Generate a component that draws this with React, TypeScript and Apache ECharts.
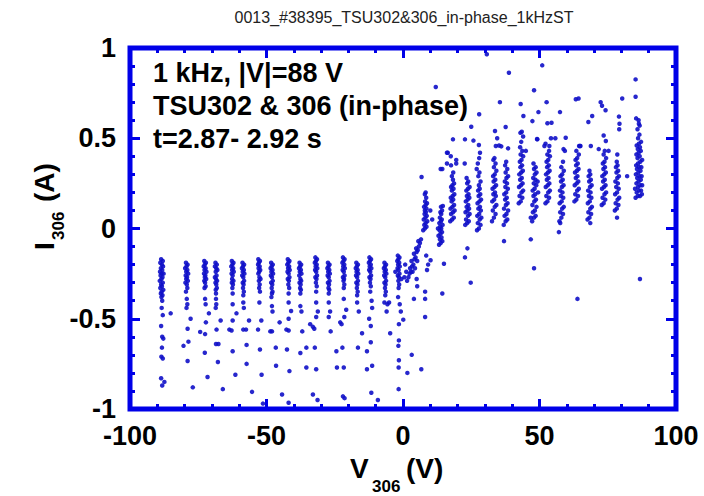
import React, { useEffect, useRef } from "react";
import * as echarts from "echarts";

const chartTitle = "0013_#38395_TSU302&306_in-phase_1kHzST";
const annotationLines = ["1 kHz, |V|=88 V", "TSU302 & 306 (in-phase)", "t=2.87- 2.92 s"];
const xRange = [-100, 100];
const yRange = [-1, 1];

// Negative-voltage branch: dense parts of each column [V, I]
const negDense: number[][] = [
  [-88.6,-0.17],[-88.0,-0.18],[-88.9,-0.19],[-88.3,-0.20],[-87.9,-0.21],[-88.7,-0.22],[-88.2,-0.23],[-89.0,-0.24],[-88.4,-0.25],[-87.7,-0.25],[-88.8,-0.26],[-88.1,-0.27],[-88.5,-0.28],[-89.1,-0.29],[-88.0,-0.30],[-88.6,-0.31],[-88.3,-0.32],[-88.9,-0.33],[-87.8,-0.34],[-88.4,-0.35],[-88.7,-0.36],[-88.1,-0.37],[-88.5,-0.38],[-88.2,-0.40],
  [-79.5,-0.19],[-78.9,-0.20],[-79.3,-0.21],[-79.8,-0.22],[-79.0,-0.23],[-79.4,-0.24],[-78.7,-0.25],[-79.6,-0.26],[-79.1,-0.27],[-79.4,-0.28],[-78.8,-0.29],[-79.7,-0.30],[-79.2,-0.31],[-79.0,-0.33],[-79.5,-0.35],
  [-72.8,-0.18],[-72.2,-0.19],[-72.6,-0.20],[-73.0,-0.21],[-72.3,-0.22],[-72.7,-0.23],[-72.0,-0.24],[-72.9,-0.25],[-72.4,-0.26],[-72.6,-0.27],[-72.1,-0.28],[-72.8,-0.29],[-72.5,-0.30],[-72.3,-0.32],[-72.7,-0.33],
  [-68.7,-0.19],[-68.2,-0.20],[-68.9,-0.21],[-68.4,-0.22],[-68.0,-0.23],[-68.6,-0.24],[-68.3,-0.26],[-68.9,-0.27],[-68.5,-0.28],[-68.1,-0.29],[-68.7,-0.30],[-68.4,-0.31],[-68.2,-0.33],[-68.6,-0.34],[-68.5,-0.36],
  [-62.7,-0.18],[-62.1,-0.19],[-62.5,-0.20],[-62.9,-0.21],[-62.2,-0.22],[-62.6,-0.23],[-62.0,-0.24],[-62.8,-0.25],[-62.4,-0.26],[-62.6,-0.28],[-62.1,-0.29],[-62.7,-0.30],[-62.3,-0.31],[-62.5,-0.33],[-62.4,-0.36],
  [-58.8,-0.19],[-58.2,-0.20],[-58.6,-0.21],[-59.0,-0.22],[-58.3,-0.23],[-58.7,-0.24],[-58.1,-0.25],[-58.9,-0.26],[-58.5,-0.27],[-58.2,-0.29],[-58.7,-0.30],[-58.4,-0.31],[-58.6,-0.33],[-58.3,-0.35],[-58.5,-0.37],
  [-53.0,-0.17],[-52.4,-0.18],[-52.8,-0.19],[-53.1,-0.20],[-52.5,-0.21],[-52.9,-0.22],[-52.3,-0.23],[-52.7,-0.24],[-53.0,-0.25],[-52.6,-0.27],[-52.2,-0.28],[-52.8,-0.29],[-52.5,-0.31],[-52.7,-0.33],[-52.4,-0.35],
  [-48.3,-0.19],[-47.7,-0.20],[-48.1,-0.21],[-48.5,-0.22],[-47.8,-0.23],[-48.2,-0.24],[-47.6,-0.25],[-48.4,-0.26],[-48.0,-0.27],[-47.7,-0.29],[-48.3,-0.30],[-47.9,-0.31],[-48.1,-0.33],[-47.8,-0.35],[-48.0,-0.36],[-48.2,-0.38],
  [-42.2,-0.17],[-41.6,-0.18],[-42.0,-0.19],[-42.4,-0.20],[-41.7,-0.21],[-42.1,-0.22],[-41.5,-0.23],[-42.3,-0.24],[-41.9,-0.25],[-41.6,-0.27],[-42.2,-0.28],[-41.8,-0.29],[-42.0,-0.31],[-41.7,-0.33],[-41.9,-0.36],
  [-37.9,-0.19],[-37.3,-0.20],[-37.7,-0.21],[-38.1,-0.22],[-37.4,-0.23],[-37.8,-0.24],[-37.2,-0.25],[-38.0,-0.26],[-37.6,-0.28],[-37.3,-0.29],[-37.9,-0.30],[-37.5,-0.31],[-37.7,-0.33],[-37.4,-0.34],[-37.6,-0.36],
  [-32.1,-0.16],[-31.5,-0.17],[-31.9,-0.18],[-32.3,-0.19],[-31.6,-0.20],[-32.0,-0.21],[-31.4,-0.22],[-32.2,-0.23],[-31.8,-0.24],[-31.5,-0.26],[-32.1,-0.27],[-31.7,-0.28],[-31.9,-0.30],[-31.6,-0.32],[-31.8,-0.35],
  [-27.5,-0.19],[-26.9,-0.20],[-27.3,-0.21],[-27.7,-0.22],[-27.0,-0.23],[-27.4,-0.24],[-26.8,-0.25],[-27.6,-0.26],[-27.2,-0.27],[-26.9,-0.29],[-27.5,-0.30],[-27.1,-0.31],[-27.3,-0.33],[-27.0,-0.34],[-27.2,-0.36],
  [-22.0,-0.16],[-21.4,-0.17],[-21.8,-0.18],[-22.2,-0.19],[-21.5,-0.20],[-21.9,-0.21],[-21.3,-0.22],[-22.1,-0.23],[-21.7,-0.24],[-21.4,-0.26],[-22.0,-0.27],[-21.6,-0.28],[-21.8,-0.29],[-21.5,-0.31],[-21.7,-0.33],
  [-17.1,-0.19],[-16.5,-0.20],[-16.9,-0.21],[-17.3,-0.22],[-16.6,-0.23],[-17.0,-0.24],[-16.4,-0.25],[-17.2,-0.26],[-16.8,-0.27],[-16.5,-0.29],[-17.1,-0.30],[-16.7,-0.31],[-16.9,-0.33],[-16.6,-0.35],[-16.8,-0.37],
  [-12.3,-0.16],[-11.7,-0.17],[-12.1,-0.18],[-12.5,-0.19],[-11.8,-0.20],[-12.2,-0.21],[-11.6,-0.22],[-12.4,-0.23],[-12.0,-0.24],[-11.7,-0.26],[-12.3,-0.27],[-11.9,-0.28],[-12.1,-0.30],[-11.8,-0.32],[-12.0,-0.35],
  [-6.8,-0.19],[-6.2,-0.20],[-6.6,-0.21],[-7.0,-0.22],[-6.3,-0.23],[-6.7,-0.24],[-6.1,-0.25],[-6.9,-0.26],[-6.5,-0.27],[-6.2,-0.29],[-6.8,-0.30],[-6.4,-0.31],[-6.6,-0.33],[-6.3,-0.35],[-6.5,-0.37],
  [-1.9,-0.15],[-1.3,-0.16],[-1.7,-0.17],[-2.1,-0.18],[-1.4,-0.19],[-1.8,-0.20],[-1.2,-0.21],[-2.0,-0.22],[-1.6,-0.23],[-1.3,-0.25],[-1.9,-0.26],[-1.5,-0.27],[-1.7,-0.29],[-1.4,-0.31],[-1.6,-0.33],[-2.8,-0.24],[-0.6,-0.28],
];

// Negative-voltage branch: sparse tails below each column [V, I]
const negTail: number[][] = [
  [-88.4,-0.44],[-88.0,-0.48],[-88.6,-0.54],[-88.2,-0.60],[-87.8,-0.61],[-88.3,-0.66],[-88.5,-0.71],[-88.0,-0.72],[-88.6,-0.83],[-87.4,-0.85],[-88.2,-0.87],[-85.1,-0.47],
  [-79.2,-0.39],[-79.0,-0.42],[-79.3,-0.44],[-77.8,-0.50],[-78.9,-0.555],[-78.6,-0.627],[-80.4,-0.65],[-78.9,-0.734],[-77.0,-0.88],
  [-72.5,-0.39],[-72.3,-0.42],[-71.1,-0.47],[-72.2,-0.52],[-74.3,-0.573],[-72.5,-0.585],[-72.6,-0.688],[-71.6,-0.823],
  [-68.5,-0.39],[-68.4,-0.42],[-68.6,-0.44],[-66.8,-0.51],[-68.3,-0.56],[-68.5,-0.64],[-67.6,-0.64],[-67.8,-0.74],[-66.0,-0.89],
  [-62.4,-0.42],[-61.0,-0.47],[-62.4,-0.51],[-63.6,-0.56],[-62.8,-0.565],[-62.4,-0.68],[-61.4,-0.81],
  [-58.5,-0.41],[-58.3,-0.44],[-56.4,-0.51],[-58.5,-0.56],[-57.5,-0.56],[-57.3,-0.645],[-57.3,-0.75],[-55.3,-0.905],
  [-52.6,-0.41],[-51.9,-0.51],[-53.1,-0.56],[-52.4,-0.67],[-51.8,-0.81],[-51.3,-0.97],
  [-48.0,-0.43],[-47.8,-0.46],[-45.2,-0.52],[-48.0,-0.57],[-48.6,-0.57],[-46.6,-0.66],[-46.5,-0.76],[-44.3,-0.92],
  [-41.9,-0.41],[-41.0,-0.457],[-41.9,-0.50],[-42.7,-0.56],[-41.9,-0.565],[-42.5,-0.67],[-41.6,-0.79],[-41.9,-0.965],
  [-37.6,-0.43],[-37.2,-0.46],[-36.9,-0.57],[-37.6,-0.69],[-35.4,-0.66],[-35.4,-0.77],
  [-31.8,-0.41],[-31.2,-0.46],[-31.8,-0.49],[-34.0,-0.53],[-33.0,-0.545],[-32.5,-0.555],[-32.3,-0.66],[-31.8,-0.78],[-33.0,-0.92],[-31.3,-0.95],
  [-27.2,-0.41],[-26.7,-0.46],[-27.2,-0.49],[-26.5,-0.57],[-24.4,-0.68],[-24.2,-0.77],
  [-21.7,-0.39],[-20.8,-0.45],[-21.5,-0.49],[-23.0,-0.52],[-22.5,-0.53],[-22.2,-0.66],[-21.7,-0.77],[-22.0,-0.93],[-21.4,-0.94],
  [-16.8,-0.41],[-16.2,-0.46],[-15.0,-0.58],[-16.5,-0.66],[-13.2,-0.68],[-13.2,-0.78],
  [-11.5,-0.40],[-11.3,-0.44],[-12.4,-0.50],[-11.8,-0.54],[-11.8,-0.63],[-11.3,-0.76],[-11.6,-0.91],[-9.2,-0.95],
  [-6.8,-0.41],[-5.1,-0.41],[-5.7,-0.42],[-6.0,-0.46],[-4.7,-0.58],
  [-1.8,-0.38],[-1.2,-0.42],[-0.8,-0.46],[0.1,-0.505],[-1.5,-0.53],[-1.5,-0.62],[-1.7,-0.65],[-1.5,-0.73],[-1.6,-0.77],[-1.6,-0.89],[3.2,-0.70],[1.6,-0.80],[6.7,-0.78],
];

// Transition region around V = 0..10 [V, I]
const transition: number[][] = [
  [2.0,-0.27],[2.4,-0.25],[2.9,-0.24],[2.6,-0.22],[3.3,-0.21],[3.8,-0.20],[3.1,-0.18],[4.2,-0.17],[4.6,-0.16],[4.0,-0.14],[5.0,-0.13],[5.4,-0.12],[4.8,-0.11],[5.8,-0.10],[6.2,-0.08],[5.6,-0.07],[6.6,-0.06],[3.5,-0.24],[4.4,-0.22],[5.2,-0.18],[1.5,-0.29],[0.8,-0.20],[1.2,-0.24],[0.5,-0.27],
  [8.5,-0.15],[9.2,-0.20],[8.8,-0.23],[4.0,-0.39],[8.1,-0.39],[8.1,-0.35],[5.2,-0.32],[5.0,-0.28],[8.1,-0.49],
];

// Positive-voltage branch columns [V, I]
const posColumns: number[][] = [
  [7.4,-0.01],[8.0,0.00],[8.6,0.01],[7.8,0.02],[8.3,0.03],[8.9,0.04],[7.6,0.05],[8.2,0.06],[8.7,0.07],[7.9,0.08],[8.4,0.09],[8.0,0.10],[8.6,0.11],[7.7,0.12],[8.3,0.13],[8.8,0.14],[8.1,0.15],[8.5,0.17],[8.0,0.19],[8.3,0.20],[10.0,0.10],[10.7,0.05],
  [13.2,-0.09],[13.8,-0.08],[14.4,-0.07],[13.5,-0.06],[14.1,-0.05],[13.0,-0.04],[13.7,-0.03],[14.3,-0.02],[13.4,-0.01],[14.0,0.00],[13.6,0.01],[14.5,0.02],[13.3,0.03],[13.9,0.04],[14.2,0.05],[13.5,0.06],[14.0,0.08],[13.7,0.09],[14.3,0.10],[13.9,0.12],[14.6,0.125],[12.8,0.00],
  [17.3,0.04],[18.0,0.05],[18.6,0.06],[17.6,0.08],[18.3,0.09],[18.9,0.10],[17.4,0.11],[18.1,0.12],[18.7,0.13],[17.8,0.15],[18.4,0.16],[17.5,0.17],[18.2,0.18],[18.8,0.19],[17.9,0.21],[18.5,0.22],[17.6,0.23],[18.1,0.24],[18.7,0.25],[18.3,0.27],[17.9,0.29],[18.4,0.31],
  [22.8,0.02],[23.5,0.03],[24.1,0.04],[23.1,0.05],[23.8,0.07],[24.4,0.08],[22.9,0.09],[23.6,0.10],[24.2,0.11],[23.3,0.12],[23.9,0.13],[23.0,0.15],[23.7,0.16],[24.3,0.17],[23.4,0.18],[24.0,0.19],[23.2,0.21],[23.8,0.22],[24.4,0.23],[23.5,0.25],[23.9,0.26],[23.3,0.28],
  [27.1,-0.01],[27.8,0.00],[28.4,0.02],[27.4,0.03],[28.1,0.05],[28.7,0.06],[27.2,0.07],[27.9,0.08],[28.5,0.10],[27.6,0.11],[28.2,0.12],[27.3,0.14],[28.0,0.15],[28.6,0.16],[27.7,0.18],[28.3,0.19],[27.5,0.21],[28.1,0.22],[27.8,0.24],[28.4,0.26],[27.6,0.29],[28.0,0.31],[27.4,0.36],[27.9,0.39],[28.2,0.42],
  [32.6,0.04],[33.3,0.06],[33.9,0.08],[32.9,0.10],[33.6,0.12],[34.2,0.13],[32.7,0.15],[33.4,0.16],[34.0,0.18],[33.1,0.19],[33.7,0.20],[32.8,0.22],[33.5,0.23],[34.1,0.24],[33.2,0.26],[33.8,0.27],[33.0,0.29],[33.6,0.30],[34.2,0.32],[33.3,0.34],[33.9,0.36],[33.1,0.38],[33.5,0.39],
  [36.9,0.02],[37.6,0.04],[38.2,0.05],[37.2,0.07],[37.9,0.08],[38.5,0.10],[37.0,0.11],[37.7,0.13],[38.3,0.14],[37.4,0.16],[38.0,0.17],[37.1,0.19],[37.8,0.20],[38.4,0.22],[37.5,0.23],[38.1,0.25],[37.3,0.26],[37.9,0.28],[38.5,0.29],[37.6,0.31],[38.2,0.33],[37.4,0.35],[37.8,0.37],
  [42.4,0.14],[43.1,0.15],[43.7,0.17],[42.7,0.18],[43.4,0.20],[44.0,0.21],[42.5,0.23],[43.2,0.24],[43.8,0.25],[42.9,0.27],[43.5,0.28],[42.6,0.30],[43.3,0.31],[43.9,0.32],[43.0,0.34],[43.6,0.35],[42.8,0.37],[43.4,0.38],[44.0,0.40],[43.1,0.41],[43.7,0.43],[42.9,0.45],[43.3,0.48],
  [47.3,0.04],[48.0,0.06],[48.6,0.07],[47.6,0.09],[48.3,0.10],[48.9,0.12],[47.4,0.13],[48.1,0.15],[48.7,0.16],[47.8,0.18],[48.4,0.19],[47.5,0.21],[48.2,0.22],[48.8,0.24],[47.9,0.25],[48.5,0.27],[47.7,0.28],[48.3,0.30],[48.9,0.31],[48.0,0.33],[48.6,0.34],[47.8,0.36],[49.5,0.20],[49.3,0.26],
  [52.2,0.14],[52.9,0.15],[53.5,0.17],[52.5,0.18],[53.2,0.20],[53.8,0.21],[52.3,0.23],[53.0,0.24],[53.6,0.25],[52.7,0.27],[53.3,0.28],[52.4,0.30],[53.1,0.31],[53.7,0.32],[52.8,0.34],[53.4,0.35],[52.6,0.37],[53.2,0.38],[53.8,0.40],[52.9,0.41],[53.5,0.43],
  [57.3,0.04],[58.0,0.06],[58.6,0.08],[57.6,0.09],[58.3,0.11],[58.9,0.12],[57.4,0.14],[58.1,0.15],[58.7,0.17],[57.8,0.18],[58.4,0.20],[57.5,0.21],[58.2,0.23],[58.8,0.24],[57.9,0.26],[58.5,0.27],[57.7,0.29],[58.3,0.30],[58.9,0.32],[58.0,0.34],[58.6,0.37],[57.6,0.03],
  [62.8,0.15],[63.5,0.16],[64.1,0.18],[63.1,0.19],[63.8,0.21],[64.4,0.22],[62.9,0.24],[63.6,0.25],[64.2,0.26],[63.3,0.28],[63.9,0.29],[63.0,0.31],[63.7,0.32],[64.3,0.33],[63.4,0.35],[64.0,0.36],[63.2,0.38],[63.8,0.39],[64.4,0.41],[63.5,0.43],
  [67.6,0.05],[68.3,0.06],[68.9,0.08],[67.9,0.09],[68.6,0.11],[69.2,0.12],[67.7,0.14],[68.4,0.15],[69.0,0.17],[68.1,0.18],[68.7,0.20],[67.8,0.21],[68.5,0.23],[69.1,0.24],[68.2,0.26],[68.8,0.27],[68.0,0.29],[68.6,0.30],[68.3,0.32],[68.6,0.03],
  [72.8,0.13],[73.5,0.14],[74.1,0.16],[73.1,0.17],[73.8,0.19],[74.4,0.20],[72.9,0.22],[73.6,0.23],[74.2,0.24],[73.3,0.26],[73.9,0.27],[73.0,0.29],[73.7,0.30],[74.3,0.31],[73.4,0.33],[74.0,0.34],[73.2,0.36],[73.8,0.37],[74.4,0.39],[73.5,0.41],[73.9,0.43],
  [77.6,0.10],[78.3,0.11],[78.9,0.13],[77.9,0.14],[78.6,0.16],[79.2,0.17],[77.7,0.19],[78.4,0.20],[79.0,0.22],[78.1,0.23],[78.7,0.25],[77.8,0.26],[78.5,0.28],[79.1,0.29],[78.2,0.31],[78.8,0.32],[78.0,0.34],[78.6,0.35],[78.3,0.37],[78.5,0.41],[78.4,0.06],
  [85.2,0.17],[86.0,0.18],[86.8,0.18],[87.5,0.19],[85.6,0.20],[86.4,0.21],[87.2,0.21],[85.0,0.22],[86.1,0.23],[86.9,0.24],[87.6,0.24],[85.5,0.25],[86.3,0.26],[87.1,0.27],[85.8,0.28],[86.6,0.29],[87.4,0.29],[85.3,0.30],[86.2,0.31],[87.0,0.32],[85.7,0.33],[86.5,0.34],[87.3,0.34],[85.4,0.35],[86.1,0.36],[86.9,0.37],[87.6,0.38],[85.9,0.39],[86.7,0.40],[85.5,0.41],[86.3,0.42],[87.1,0.43],[86.0,0.44],[86.8,0.45],[85.6,0.46],[86.4,0.47],[87.2,0.48],[86.1,0.50],[86.6,0.52],[85.9,0.55],[86.3,0.60],
];

// Scattered points on the positive branch (upper spray and low outliers) [V, I]
const posScatter: number[][] = [
  [12.0,0.784],[38.8,0.863],[51.0,0.904],[48.0,0.766],[85.2,0.826],[85.2,0.73],[80.3,0.72],[63.3,0.716],[64.3,0.72],[72.4,0.70],[72.9,0.68],[74.2,0.655],
  [52.6,0.70],[43.1,0.69],[35.5,0.70],[49.6,0.645],[57.5,0.645],[44.1,0.623],[69.3,0.623],[67.9,0.59],[79.1,0.62],[79.3,0.58],[79.2,0.55],[47.4,0.595],
  [52.9,0.583],[54.4,0.586],[37.6,0.562],[25.0,0.564],[33.7,0.54],[43.5,0.536],[49.2,0.494],[18.3,0.494],[22.7,0.494],[25.8,0.487],[27.8,0.463],[59.6,0.503],
  [54.2,0.50],[55.8,0.50],[73.5,0.515],[74.3,0.485],[64.8,0.457],[68.8,0.457],[34.0,0.457],[16.4,0.42],[14.4,0.33],[6.8,0.285],[19.5,0.38],[19.5,0.36],
  [27.0,0.33],[30.7,0.965],[27.9,0.633],[34.5,0.50],[35.2,0.46],[36.0,0.455],[38.5,0.444],[43.0,0.53],[44.0,0.51],[45.0,0.43],[49.1,0.496],
  [52.2,0.47],[51.8,0.457],[53.6,0.457],[58.8,0.44],[59.3,0.43],[64.5,0.457],[65.0,0.457],[71.7,0.44],[75.3,0.43],[85.4,0.61],[86.4,0.58],[86.7,0.57],
  [82.1,0.29],[13.8,0.33],[16.1,0.42],[16.1,0.36],[17.5,0.40],[17.6,0.35],[22.6,0.36],
  [57.1,-0.02],[15.0,-0.195],[10.1,-0.176],[22.7,-0.16],[23.6,-0.11],[37.0,-0.07],[46.8,-0.06],[46.8,0.06],[48.0,-0.22],[14.4,-0.36],[24.8,-0.30],[63.9,-0.39],[86.8,-0.28],
];

const BLUE = "#0000e8";
const DOT = "#1010c8";
const FONT = "'Liberation Sans', Arial, sans-serif";

export default function App() {
  const ref = useRef<HTMLDivElement>(null);
  useEffect(() => {
    if (!ref.current) return;
    const chart = echarts.init(ref.current, null, { renderer: "svg" });
    const points = [...negDense, ...negTail, ...transition, ...posColumns, ...posScatter];
    const tickCommon = {
      axisLine: { show: false, onZero: false },
      splitLine: { show: false },
      axisTick: { show: true, inside: true, length: 10, lineStyle: { color: BLUE, width: 3 } },
      minorTick: { show: true, splitNumber: 5, length: 5, lineStyle: { color: BLUE, width: 3 } },
    };
    const labelStyle = { fontSize: 27, fontWeight: "bold", color: "#000", fontFamily: FONT };
    const txt = (text: string, x: number, y: number, size: number, extra: any = {}) => ({
      type: "text",
      x,
      y,
      z: 100,
      style: {
        text,
        fontSize: size,
        fontWeight: "bold",
        fontFamily: FONT,
        fill: "#000",
        align: "left",
        textAlign: "left",
        verticalAlign: "middle",
        textVerticalAlign: "middle",
        ...extra,
      },
    });
    chart.setOption({
      animation: false,
      backgroundColor: "#ffffff",
      grid: { left: 130, right: 28, top: 48, bottom: 87, show: true, borderColor: BLUE, borderWidth: 5, backgroundColor: "transparent" },
      xAxis: [
        { type: "value", min: xRange[0], max: xRange[1], interval: 50, position: "bottom", ...tickCommon,
          axisLabel: { ...labelStyle, margin: 13 } },
        { type: "value", min: xRange[0], max: xRange[1], interval: 50, position: "top", ...tickCommon,
          axisLabel: { show: false } },
      ],
      yAxis: [
        { type: "value", min: yRange[0], max: yRange[1], interval: 0.5, position: "left", ...tickCommon,
          axisLabel: { ...labelStyle, margin: 14 } },
        { type: "value", min: yRange[0], max: yRange[1], interval: 0.5, position: "right", ...tickCommon,
          axisLabel: { show: false } },
      ],
      series: [
        {
          type: "scatter",
          xAxisIndex: 0,
          yAxisIndex: 0,
          data: points,
          symbol: "circle",
          symbolSize: 4.5,
          itemStyle: { color: DOT, opacity: 0.9 },
          silent: true,
        },
      ],
      graphic: [
        {
          type: "text",
          x: 404,
          y: 17,
          style: {
            text: chartTitle,
            fontSize: 16,
            fontFamily: "'Liberation Sans Narrow', 'Liberation Sans', Arial, sans-serif",
            fill: "#222",
            align: "center",
            textAlign: "center",
            verticalAlign: "middle",
            textVerticalAlign: "middle",
          },
        },
        txt(annotationLines[0], 153, 73, 27),
        txt(annotationLines[1], 153, 106, 27),
        txt(annotationLines[2], 153, 139, 27),
        txt("V", 350, 468, 28),
        txt("306", 372, 486, 17),
        txt("(V)", 406, 468, 28),
        {
          type: "group",
          x: 44,
          y: 250,
          rotation: Math.PI / 2,
          children: [
            txt("I", 0, 0, 28),
            txt("306", 10, 14, 17),
            txt("(A)", 48, 0, 28),
          ],
        },
      ],
    });
    return () => chart.dispose();
  }, []);
  return <div ref={ref} style={{ width: 704, height: 496, position: "absolute", left: 0, top: 0 }} />;
}
